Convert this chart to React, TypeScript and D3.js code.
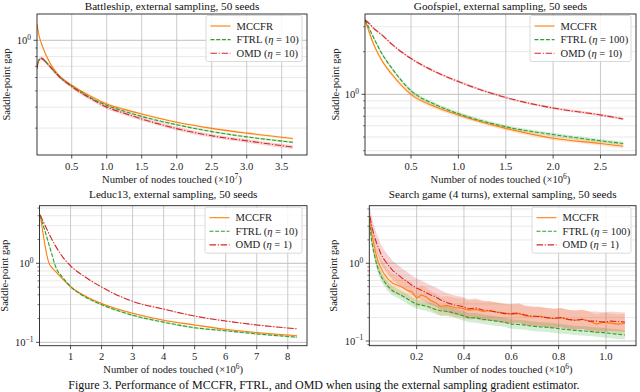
import React from "react";
import * as d3 from "d3";

// ---------- DATA ----------
const COLORS = { mccfr: "#ff7f0e", ftrl: "#2ca02c", omd: "#d62728" };

const battleX = [0.004, 0.03, 0.07, 0.12, 0.2, 0.3, 0.5, 0.75, 1.0, 1.25, 1.5, 2.0, 2.5, 3.0, 3.66];
const battleMCCFR = [1.25, 1.08, 0.95, 0.84, 0.72, 0.63, 0.54, 0.47, 0.418, 0.388, 0.364, 0.325, 0.299, 0.28, 0.26];
const battleFTRL = [0.68, 0.76, 0.78, 0.75, 0.69, 0.62, 0.535, 0.46, 0.41, 0.378, 0.352, 0.314, 0.286, 0.266, 0.247];
const battleOMD = [0.68, 0.76, 0.78, 0.75, 0.69, 0.62, 0.53, 0.455, 0.4, 0.368, 0.34, 0.298, 0.27, 0.252, 0.231];

const goofX = [0.014, 0.05, 0.1, 0.2, 0.3, 0.5, 0.75, 1.0, 1.5, 2.0, 2.5, 2.74];
const goofMCCFR = [3.35, 2.85, 2.3, 1.7, 1.38, 1.0, 0.82, 0.715, 0.575, 0.49, 0.45, 0.43];
const goofFTRL = [3.35, 3.0, 2.55, 1.9, 1.52, 1.06, 0.85, 0.73, 0.59, 0.52, 0.47, 0.45];
const goofOMD = [3.35, 3.2, 2.95, 2.6, 2.25, 1.79, 1.45, 1.23, 0.95, 0.8, 0.715, 0.67];

const leducX = [0.02, 0.1, 0.2, 0.3, 0.4, 0.5, 0.75, 1.0, 1.5, 2, 3, 4, 5, 6, 7, 8.3];
const leducMCCFR = [4.1, 2.6, 1.5, 1.02, 0.88, 0.8, 0.63, 0.505, 0.38, 0.31, 0.233, 0.19, 0.166, 0.146, 0.133, 0.121];
const leducFTRL = [4.1, 3.2, 2.4, 1.75, 1.3, 0.95, 0.66, 0.51, 0.37, 0.3, 0.22, 0.18, 0.153, 0.14, 0.128, 0.116];
const leducOMD = [4.1, 3.5, 2.9, 2.4, 2.0, 1.7, 1.2, 0.93, 0.66, 0.5, 0.33, 0.263, 0.215, 0.186, 0.166, 0.148];

const searchX = [0.003, 0.01, 0.02, 0.03, 0.04, 0.05, 0.06, 0.08, 0.1, 0.12, 0.14, 0.16, 0.18, 0.2, 0.22, 0.24, 0.26, 0.28, 0.3, 0.33, 0.36, 0.39, 0.42, 0.45, 0.48, 0.51, 0.54, 0.57, 0.6, 0.63, 0.66, 0.69, 0.72, 0.75, 0.78, 0.81, 0.84, 0.87, 0.9, 0.93, 0.96, 0.99, 1.02, 1.05, 1.08];
const searchMCCFR = [3.6, 2.4, 1.7, 1.25, 1.0, 0.86, 0.75, 0.62, 0.55, 0.52, 0.49, 0.45, 0.43, 0.355, 0.39, 0.37, 0.33, 0.31, 0.28, 0.285, 0.27, 0.265, 0.25, 0.255, 0.24, 0.245, 0.235, 0.23, 0.22, 0.225, 0.21, 0.205, 0.21, 0.2, 0.195, 0.2, 0.19, 0.185, 0.19, 0.18, 0.165, 0.175, 0.17, 0.165, 0.168];
const searchFTRL = [3.0, 1.9, 1.35, 1.0, 0.8, 0.68, 0.6, 0.5, 0.44, 0.41, 0.38, 0.35, 0.32, 0.3, 0.29, 0.28, 0.27, 0.255, 0.245, 0.24, 0.23, 0.215, 0.2, 0.198, 0.19, 0.185, 0.18, 0.175, 0.165, 0.163, 0.16, 0.155, 0.152, 0.15, 0.147, 0.143, 0.14, 0.137, 0.135, 0.133, 0.13, 0.128, 0.125, 0.122, 0.12];
const searchOMD = [4.0, 3.0, 2.3, 1.85, 1.55, 1.3, 1.15, 0.95, 0.8, 0.72, 0.64, 0.58, 0.52, 0.48, 0.45, 0.42, 0.39, 0.37, 0.34, 0.31, 0.29, 0.28, 0.26, 0.265, 0.25, 0.245, 0.235, 0.225, 0.225, 0.23, 0.215, 0.21, 0.205, 0.2, 0.195, 0.2, 0.19, 0.185, 0.19, 0.18, 0.18, 0.175, 0.18, 0.178, 0.175];

// band half-width factors (multiplicative, log-symmetric)
const bandBattle = [1.015, 1.015, 1.025];
const bandGoof = [1.035, 1.03, 1.02];
const bandLeduc = [1.02, 1.03, 1.015];
const bandSearch = [1.33, 1.15, 1.33];

const titles = [
  "Battleship, external sampling, 50 seeds",
  "Goofspiel, external sampling, 50 seeds",
  "Leduc13, external sampling, 50 seeds",
  "Search game (4 turns), external sampling, 50 seeds",
];
const legendBattle = ["MCCFR", "FTRL", "10", "OMD", "10"];
const legendGoof = ["MCCFR", "FTRL", "100", "OMD", "10"];
const legendLeduc = ["MCCFR", "FTRL", "10", "OMD", "1"];
const legendSearch = ["MCCFR", "FTRL", "100", "OMD", "1"];

const ticksBattle = [0.5, 1.0, 1.5, 2.0, 2.5, 3.0, 3.5];
const ticksGoof = [0.5, 1.0, 1.5, 2.0, 2.5];
const ticksLeduc = [1, 2, 3, 4, 5, 6, 7, 8];
const ticksSearch = [0.2, 0.4, 0.6, 0.8, 1.0];

const FONT = "Liberation Serif, DejaVu Serif, serif";
const FS = 10.6; // labels / ticks / legend
const TFS = 11.2; // titles

type PanelProps = {
  left: number; right: number; top: number; bottom: number;
  xDomain: [number, number]; yDomain: [number, number];
  xTicks: number[]; xFmt: (v: number) => string; xExp: string;
  title: string; titleY: number; xLabelY: number; yLabelX: number;
  xs: number[]; ys: number[][]; bands: number[]; legend: string[];
  legendW: number; smooth: boolean;
};

function Panel(p: PanelProps) {
  const x = d3.scaleLinear().domain(p.xDomain).range([p.left, p.right]);
  const y = d3.scaleLog().domain(p.yDomain).range([p.bottom, p.top]);
  const curve = p.smooth ? d3.curveMonotoneX : d3.curveLinear;
  const clipId = `clip-${Math.round(p.left)}-${Math.round(p.top)}`;

  const yTicks: { v: number; major: boolean }[] = [];
  const kLo = Math.floor(Math.log10(p.yDomain[0]));
  const kHi = Math.ceil(Math.log10(p.yDomain[1]));
  for (let k = kLo; k <= kHi; k++) {
    for (let m = 1; m <= 9; m++) {
      const v = m * Math.pow(10, k);
      if (v >= p.yDomain[0] && v <= p.yDomain[1]) yTicks.push({ v, major: m === 1 });
    }
  }

  const colors = [COLORS.mccfr, COLORS.ftrl, COLORS.omd];
  const dashes = ["", "4,1.7", "6.5,1.7,1.2,1.7"];
  const order = [0, 1, 2];

  const lineGen = d3.line<number>().x((_, i) => x(p.xs[i])).y((d) => y(d)).curve(curve);

  const cx = (p.left + p.right) / 2;
  const cy = (p.top + p.bottom) / 2;
  const lgX = p.right - 5 - p.legendW;
  const lgY = p.top + 1.5;
  const rowH = 13.6;

  const bandAreas = order.map((s) => {
    const f = p.bands[s];
    const area = d3
      .area<number>()
      .x((_, i) => x(p.xs[i]))
      .y0((d) => y(d / f))
      .y1((d) => y(d * f))
      .curve(curve);
    return area(p.ys[s]) || "";
  });

  return (
    <g style={{ fontFamily: FONT }}>
      <defs>
        <clipPath id={clipId}>
          <rect x={p.left} y={p.top} width={p.right - p.left} height={p.bottom - p.top} />
        </clipPath>
      </defs>
      {yTicks.filter((t) => !t.major).map((t, i) => (
        <line key={"ym" + i} x1={p.left} x2={p.right} y1={y(t.v)} y2={y(t.v)} stroke="#e3e3e3" strokeWidth={0.8} />
      ))}
      {yTicks.filter((t) => t.major).map((t, i) => (
        <line key={"yM" + i} x1={p.left} x2={p.right} y1={y(t.v)} y2={y(t.v)} stroke="#b8b8b8" strokeWidth={0.9} />
      ))}
      {p.xTicks.map((t, i) => (
        <line key={"xg" + i} x1={x(t)} x2={x(t)} y1={p.top} y2={p.bottom} stroke="#c4c4c4" strokeWidth={0.9} />
      ))}
      <g clipPath={`url(#${clipId})`}>
        {order.map((s) => (
          <path key={"b" + s} d={bandAreas[s]} fill={colors[s]} fillOpacity={0.2} stroke="none" />
        ))}
        {order.map((s) => (
          <path key={"l" + s} d={lineGen(p.ys[s]) || ""} fill="none" stroke={colors[s]} strokeWidth={1.1} strokeDasharray={dashes[s]} />
        ))}
      </g>
      <rect x={p.left} y={p.top} width={p.right - p.left} height={p.bottom - p.top} fill="none" stroke="#222" strokeWidth={0.9} />
      {p.xTicks.map((t, i) => (
        <g key={"xt" + i}>
          <line x1={x(t)} x2={x(t)} y1={p.bottom} y2={p.bottom + 3.5} stroke="#222" strokeWidth={0.8} />
          <text x={x(t)} y={p.bottom + 14.5} fontSize={FS} textAnchor="middle" fill="#222">{p.xFmt(t)}</text>
        </g>
      ))}
      {yTicks.map((t, i) => (
        <line key={"yt" + i} x1={p.left - (t.major ? 3.5 : 2)} x2={p.left} y1={y(t.v)} y2={y(t.v)} stroke="#222" strokeWidth={t.major ? 0.8 : 0.6} />
      ))}
      {yTicks.filter((t) => t.major).map((t, i) => {
        const e = Math.round(Math.log10(t.v));
        return (
          <text key={"yl" + i} x={p.left - 6} y={y(t.v) + 3.5} fontSize={FS} textAnchor="end" fill="#222">
            10<tspan dy={-4.2} fontSize={7.5}>{e < 0 ? "\u2212" + Math.abs(e) : String(e)}</tspan>
          </text>
        );
      })}
      <text x={cx} y={p.titleY} fontSize={TFS} textAnchor="middle" fill="#111">{p.title}</text>
      <text x={cx} y={p.xLabelY} fontSize={FS} textAnchor="middle" fill="#222">
        Number of nodes touched (×10<tspan dy={-4.2} fontSize={7.5}>{p.xExp}</tspan><tspan dy={4.2}>)</tspan>
      </text>
      <text transform={`translate(${p.yLabelX},${cy}) rotate(-90)`} fontSize={FS} textAnchor="middle" fill="#222">Saddle-point gap</text>
      <rect x={lgX} y={lgY} width={p.legendW} height={46} rx={2} fill="white" fillOpacity={0.85} stroke="#d0d0d0" strokeWidth={0.8} />
      {order.map((s) => {
        const ly = lgY + 10.5 + s * rowH;
        return (
          <g key={"lg" + s}>
            <line x1={lgX + 4.5} x2={lgX + 24.5} y1={ly} y2={ly} stroke={colors[s]} strokeWidth={1.1} strokeDasharray={dashes[s]} />
            <text x={lgX + 30.5} y={ly + 3.5} fontSize={FS} fill="#222">
              {s === 0 ? p.legend[0] : (
                <>
                  {p.legend[s === 1 ? 1 : 3]} (<tspan fontStyle="italic">η</tspan> = {p.legend[s === 1 ? 2 : 4]})
                </>
              )}
            </text>
          </g>
        );
      })}
    </g>
  );
}

export default function App() {
  const f1 = (v: number) => v.toFixed(1);
  const f0 = (v: number) => String(v);
  return (
    <svg width={640} height={392} style={{ position: "absolute", left: 0, top: 0, background: "white", fontFamily: FONT }}>
      <rect width={640} height={392} fill="white" />
      <Panel left={37} right={307} top={14} bottom={155} xDomain={[0.004, 3.861]} yDomain={[0.2075, 1.434]}
        xTicks={ticksBattle} xFmt={f1} xExp="7" title={titles[0]} titleY={10} xLabelY={183} yLabelX={10}
        xs={battleX} ys={[battleMCCFR, battleFTRL, battleOMD]} bands={bandBattle} legend={legendBattle} legendW={96} smooth />
      <Panel left={365} right={636} top={14} bottom={155} xDomain={[0.014, 2.875]} yDomain={[0.373, 3.69]}
        xTicks={ticksGoof} xFmt={f1} xExp="6" title={titles[1]} titleY={10} xLabelY={183} yLabelX={338.5}
        xs={goofX} ys={[goofMCCFR, goofFTRL, goofOMD]} bands={bandGoof} legend={legendGoof} legendW={101} smooth />
      <Panel left={39.5} right={307} top={205.7} bottom={345.7} xDomain={[0, 8.62]} yDomain={[0.0906, 5.36]}
        xTicks={ticksLeduc} xFmt={f0} xExp="6" title={titles[2]} titleY={198.3} xLabelY={373.3} yLabelX={7.5}
        xs={leducX} ys={[leducMCCFR, leducFTRL, leducOMD]} bands={bandLeduc} legend={legendLeduc} legendW={97} smooth />
      <Panel left={369.3} right={636} top={205.7} bottom={345.7} xDomain={[0, 1.127]} yDomain={[0.087, 5.51]}
        xTicks={ticksSearch} xFmt={f1} xExp="6" title={titles[3]} titleY={198.3} xLabelY={373.3} yLabelX={337.3}
        xs={searchX} ys={[searchMCCFR, searchFTRL, searchOMD]} bands={bandSearch} legend={legendSearch} legendW={99} smooth={false} />
      <text x={324} y={389.3} fontSize={12} textAnchor="middle" fill="#111">
        Figure 3. Performance of MCCFR, FTRL, and OMD when using the external sampling gradient estimator.
      </text>
    </svg>
  );
}
